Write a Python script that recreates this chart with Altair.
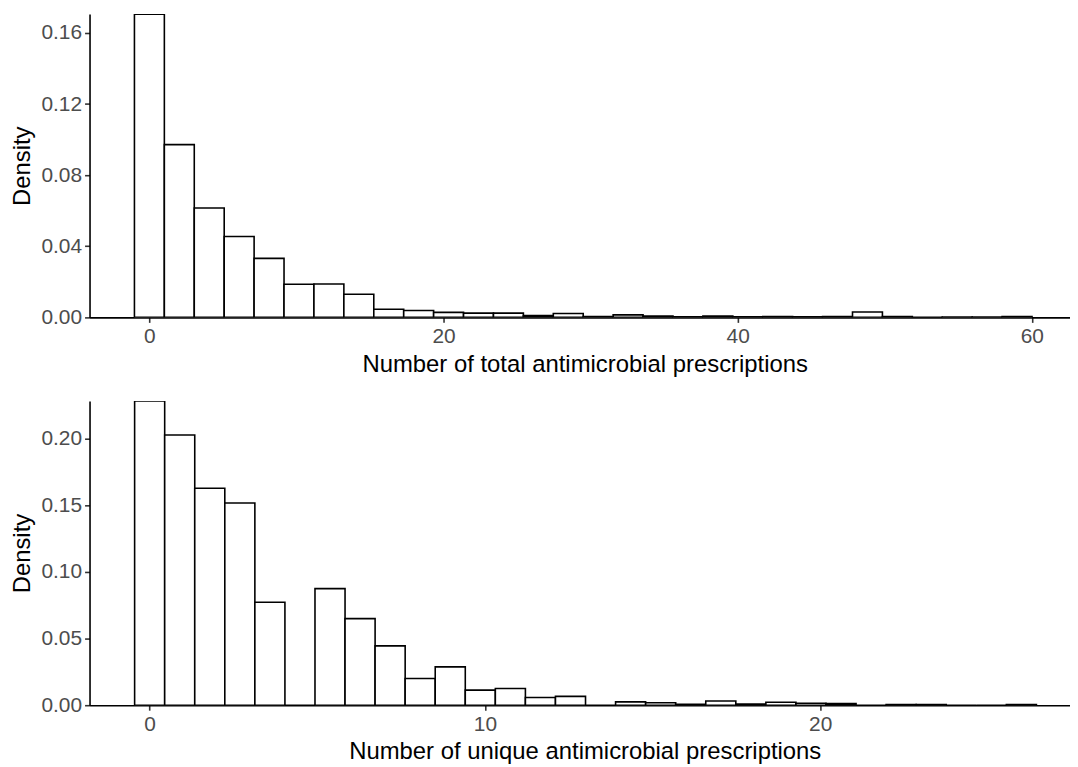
import altair as alt
import pandas as pd

# ---- data (density per bin) ----
total_binwidth = 59 / 29
total_density = [0.1706, 0.0972, 0.0615, 0.0455, 0.0332, 0.0186, 0.0188, 0.0130,
                 0.0046, 0.0039, 0.0028, 0.0024, 0.0024, 0.0010, 0.0022, 0.0005,
                 0.0014, 0.0008, 0.0004, 0.0008, 0.0004, 0.0005, 0.0003, 0.0005,
                 0.0030, 0.0005, 0.0001, 0.0002, 0.0002, 0.0005]
total_xticks = [0, 20, 40, 60]
total_yticks = [0.00, 0.04, 0.08, 0.12, 0.16]
total_xdomain = [-4.07, 62.6]
total_title = "Number of total antimicrobial prescriptions"

unique_binwidth = 26 / 29
unique_density = [0.2284, 0.2028, 0.1628, 0.1518, 0.0773, 0.0, 0.0875, 0.0650,
                  0.0445, 0.0200, 0.0288, 0.0113, 0.0125, 0.0058, 0.0066, 0.0,
                  0.0025, 0.0018, 0.0006, 0.0032, 0.0008, 0.0022, 0.0015, 0.0012,
                  0.0, 0.0004, 0.0005, 0.0, 0.0, 0.0004]
unique_xticks = [0, 10, 20]
unique_yticks = [0.00, 0.05, 0.10, 0.15, 0.20]
unique_xdomain = [-1.793, 27.45]
unique_title = "Number of unique antimicrobial prescriptions"

FONT = "Liberation Sans"
PLOT_W = 986


def panel(dens, bw, xdom, xticks, yticks, xtitle, h):
    df = pd.DataFrame({"k": list(range(len(dens))), "density": dens})
    df["x0"] = (df["k"] - 0.5) * bw
    df["x1"] = (df["k"] + 0.5) * bw
    return (
        alt.Chart(df)
        .mark_bar(fill="white", stroke="black", strokeWidth=1.6, clip=True)
        .encode(
            x=alt.X("x0:Q",
                    scale=alt.Scale(domain=xdom, nice=False, zero=False),
                    axis=alt.Axis(values=xticks, format="d", title=xtitle)),
            x2="x1:Q",
            y=alt.Y("density:Q",
                    scale=alt.Scale(domain=[0, max(dens)], nice=False),
                    axis=alt.Axis(values=yticks, format=".2f", title="Density")),
            y2=alt.datum(0),
        )
        .properties(width=PLOT_W, height=h)
    )


top = panel(total_density, total_binwidth, total_xdomain, total_xticks,
            total_yticks, total_title, 305)
bottom = panel(unique_density, unique_binwidth, unique_xdomain, unique_xticks,
               unique_yticks, unique_title, 306)

chart = (
    alt.vconcat(top, bottom, spacing=25)
    .properties(padding={"top": 4, "left": 3, "right": 0, "bottom": 0})
    .configure_view(stroke=None)
    .configure_axis(
        grid=False,
        domainColor="black", domainWidth=1.6,
        tickColor="#333333", tickWidth=1.6, tickSize=5,
        labelColor="#4D4D4D", labelFont=FONT, labelFontSize=21, labelPadding=3,
        titleColor="black", titleFont=FONT, titleFontSize=24,
        titleFontWeight="normal",
    )
    .configure_axisY(minExtent=50, maxExtent=50, titlePadding=5)
    .configure_axisX(titlePadding=6, titleX=498, titleAlign="center")
)

chart.save("out.html", embed_options={"renderer": "svg", "actions": False})
